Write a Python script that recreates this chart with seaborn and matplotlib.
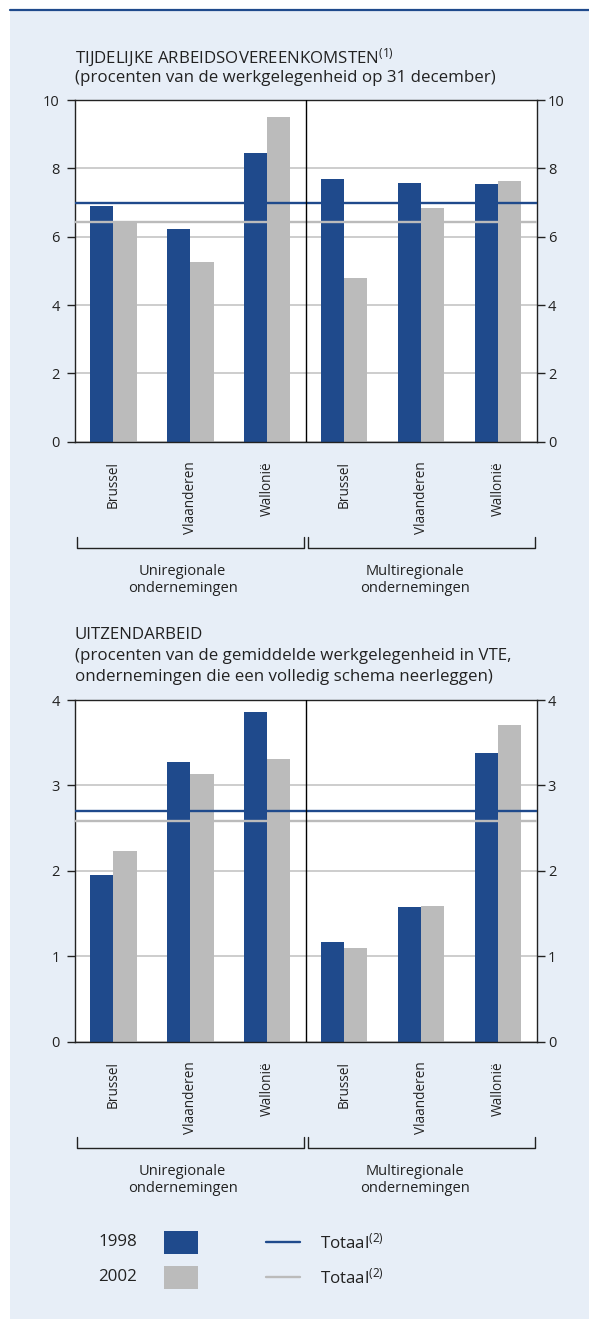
import pandas as pd
import matplotlib.pyplot as plt
import seaborn as sns
from matplotlib.lines import Line2D
from matplotlib.patches import Rectangle
from matplotlib.transforms import blended_transform_factory

# --- data --------------------------------------------------------------------
regions = ["Brussel", "Vlaanderen", "Wallonië"]
groups = ["Uniregionale\nondernemingen", "Multiregionale\nondernemingen"]
years = ["1998", "2002"]

# Tijdelijke arbeidsovereenkomsten (% of employment on 31 December)
tijd_uni_1998 = [6.90, 6.22, 8.46]
tijd_uni_2002 = [6.46, 5.26, 9.51]
tijd_multi_1998 = [7.69, 7.57, 7.54]
tijd_multi_2002 = [4.80, 6.84, 7.63]
tijd_totaal = [7.00, 6.42]          # 1998, 2002
tijd_ticks = [0, 2, 4, 6, 8, 10]

# Uitzendarbeid (% of average FTE employment)
uitz_uni_1998 = [1.95, 3.27, 3.86]
uitz_uni_2002 = [2.23, 3.13, 3.31]
uitz_multi_1998 = [1.17, 1.58, 3.38]
uitz_multi_2002 = [1.10, 1.59, 3.71]
uitz_totaal = [2.70, 2.58]
uitz_ticks = [0, 1, 2, 3, 4]

BLUE = "#1F4A8C"
GREY = "#BBBBBB"
PANEL = "#E7EEF7"
TXT = "#222222"
W, H = 589, 1319

sns.set_style("white")
plt.rcParams["font.family"] = ["Open Sans", "DejaVu Sans"]
plt.rcParams["mathtext.fontset"] = "custom"
plt.rcParams["mathtext.rm"] = "Open Sans"
plt.rcParams["mathtext.it"] = "Open Sans"
plt.rcParams["mathtext.bf"] = "Open Sans"
FS = 10.5        # ticks, group labels
FS_CAT = 9.8     # rotated region labels
FS_BIG = 12.2    # titles and legend


def fx(px):
    return px / W


def fy(py):
    return 1 - py / H


def make_frame(uni_98, uni_02, multi_98, multi_02):
    slots = [f"U {r}" for r in regions] + [f"M {r}" for r in regions]
    rows = []
    for s, a, b in zip(slots, uni_98 + multi_98, uni_02 + multi_02):
        rows.append({"slot": s, "year": "1998", "value": a})
        rows.append({"slot": s, "year": "2002", "value": b})
    return pd.DataFrame(rows), slots


def draw_panel(ax, df, slots, totals, ticks):
    ax.set_facecolor("white")
    sns.barplot(data=df, x="slot", y="value", hue="year", order=slots,
                hue_order=years, palette=[BLUE, GREY], width=0.6,
                saturation=1, edgecolor="none", legend=False, ax=ax, zorder=2)
    ax.set_xlim(-0.5, 5.5)
    ax.set_ylim(ticks[0], ticks[-1])
    ax.set_yticks(ticks)
    ax.grid(axis="y", color="#C9C9C9", lw=1.3)
    ax.grid(axis="x", visible=False)
    ax.set_axisbelow(True)
    ax.set_xlabel("")
    ax.set_ylabel("")

    # totals drawn over the bars
    ax.axhline(totals[0], color=BLUE, lw=1.7, zorder=4)
    ax.axhline(totals[1], color=GREY, lw=1.7, zorder=4)
    ax.axvline(2.5, color="black", lw=1.0, zorder=5)

    for sp in ax.spines.values():
        sp.set_color("#222222")
        sp.set_linewidth(1.0)

    ax.set_xticks(range(6))
    ax.set_xticklabels(regions * 2, rotation=90, fontsize=FS_CAT, color=TXT)
    ax.tick_params(axis="x", length=0, pad=14)
    ax.set_xticks([0.5, 1.5, 3.5, 4.5], minor=True)
    ax.tick_params(axis="x", which="minor", direction="in", length=6,
                   width=1, color="#222222")
    ax.tick_params(axis="y", left=True, length=6, width=1, color="#222222",
                   labelsize=FS, labelcolor=TXT, pad=5)

    # right-hand scale
    ax2 = ax.twinx()
    ax2.set_ylim(ax.get_ylim())
    ax2.set_yticks(ticks)
    ax2.tick_params(axis="y", right=True, length=6, width=1, color="#222222",
                    labelsize=FS, labelcolor=TXT, pad=2)
    for sp in ax2.spines.values():
        sp.set_visible(False)
    ax2.grid(False)

    # group brackets under the category labels
    tr = blended_transform_factory(ax.transData, ax.transAxes)
    for x0, x1, xc, label in [(-0.48, 2.47, 0.90, groups[0]),
                              (2.53, 5.48, 3.92, groups[1])]:
        ax.add_line(Line2D([x0, x0, x1, x1], [-0.280, -0.311, -0.311, -0.280],
                           transform=tr, color="#222222", lw=1.0,
                           clip_on=False))
        ax.text(xc, -0.405, label, transform=tr, ha="center", va="center",
                fontsize=FS, color=TXT, linespacing=1.2)


fig = plt.figure(figsize=(W / 100, H / 100), dpi=100)
fig.patch.set_facecolor("white")
fig.add_artist(Rectangle((fx(10), 0), 1 - fx(10), fy(11), transform=fig.transFigure,
                         facecolor=PANEL, edgecolor="none", zorder=0))
fig.add_artist(Line2D([fx(10), 1], [fy(10), fy(10)], transform=fig.transFigure,
                      color=BLUE, lw=1.6))

# top chart
ax1 = fig.add_axes([fx(75), fy(441.7), fx(536.7 - 75), 341.7 / H])
df1, slots = make_frame(tijd_uni_1998, tijd_uni_2002, tijd_multi_1998, tijd_multi_2002)
draw_panel(ax1, df1, slots, tijd_totaal, tijd_ticks)
fig.text(fx(75), fy(58), r"TIJDELIJKE ARBEIDSOVEREENKOMSTEN$^{\mathrm{(1)}}$",
         fontsize=FS_BIG, color=TXT, va="center")
fig.text(fx(75), fy(78), "(procenten van de werkgelegenheid op 31 december)",
         fontsize=FS_BIG, color=TXT, va="center")

# bottom chart
ax3 = fig.add_axes([fx(75), fy(1041.7), fx(536.7 - 75), 341.7 / H])
df2, slots = make_frame(uitz_uni_1998, uitz_uni_2002, uitz_multi_1998, uitz_multi_2002)
draw_panel(ax3, df2, slots, uitz_totaal, uitz_ticks)
for py, line in [(635, "UITZENDARBEID"),
                 (656, "(procenten van de gemiddelde werkgelegenheid in VTE,"),
                 (677, "ondernemingen die een volledig schema neerleggen)")]:
    fig.text(fx(75), fy(py), line, fontsize=FS_BIG, color=TXT, va="center")

# legend
for py, year, col in [(1242, years[0], BLUE), (1277, years[1], GREY)]:
    fig.text(fx(137), fy(py), year, fontsize=FS_BIG, color=TXT, ha="right",
             va="center")
    fig.add_artist(Rectangle((fx(164), fy(py + 12)), fx(34), 23 / H,
                             transform=fig.transFigure, facecolor=col,
                             edgecolor="none"))
    fig.add_artist(Line2D([fx(266), fx(300)], [fy(py), fy(py)],
                          transform=fig.transFigure, color=col, lw=1.7))
    fig.text(fx(320), fy(py), r"Totaal$^{\mathrm{(2)}}$", fontsize=FS_BIG,
             color=TXT, va="center")

fig.savefig("out.png", dpi=100, facecolor=fig.get_facecolor())
